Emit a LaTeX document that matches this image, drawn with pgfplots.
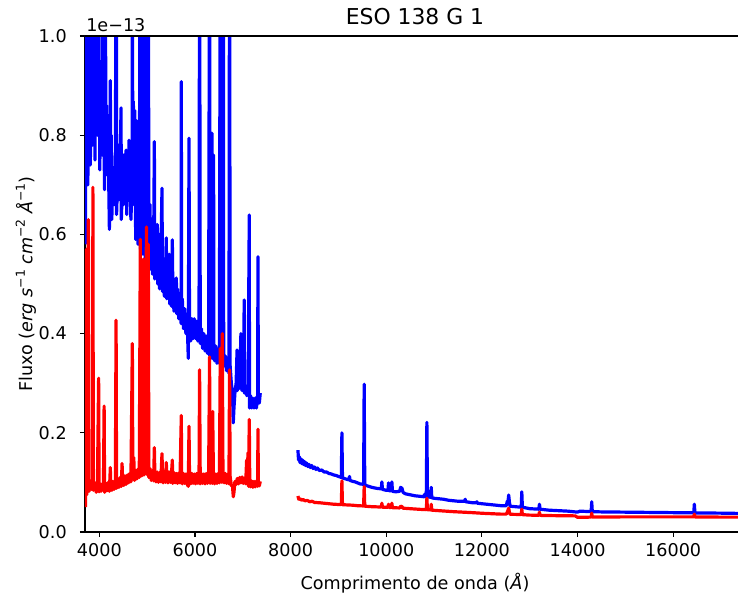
\documentclass[border=0pt]{standalone}
\usepackage{fontspec}
\setmainfont{DejaVu Sans}
\usepackage{pgfplots}
\pgfplotsset{compat=1.18}
\newcommand\sups[1]{\raisebox{0.42em}{\fontsize{9.3}{10}\selectfont #1}}
\begin{document}
\fontsize{13.2}{15.8}\selectfont
\begin{tikzpicture}
\begin{axis}[
 name=ax, scale only axis, width=489.75pt, height=372pt,
 xmin=3700, xmax=17355, ymin=0, ymax=1,
 axis x line*=bottom, axis y line*=left,
 axis line style={line width=0.8pt, black, -},
 xtick={4000,6000,8000,10000,12000,14000,16000},
 xticklabels={4000,6000,8000,10000,12000,14000,16000},
 ytick={0,0.2,0.4,0.6,0.8,1.0}, yticklabels={0.0,0.2,0.4,0.6,0.8,1.0},
 tick align=outside, major tick length=3.75pt,
 tick style={line width=0.8pt, black},
 xticklabel style={anchor=north, inner sep=0pt, yshift=-5pt},
 yticklabel style={anchor=east, inner sep=0pt, xshift=-9.75pt},
 scaled ticks=false,
 every axis plot/.append style={line join=round, line width=2.4pt},
]
% blue, optical
\addplot[color=blue] table {
x y
3710 0.58
3720 1.3
3735 0.80
3748 1.3
3760 0.70
3770 0.98
3785 0.90
3800 1.3
3810 0.74
3835 0.88
3850 1.3
3860 0.78
3875 0.97
3885 0.92
3910 0.75
3920 1.3
3935 0.86
3960 0.80
3975 1.3
3985 0.90
3998 0.95
4010 0.73
4022 0.90
4035 0.84
4060 0.76
4065 1.3
4085 0.87
4110 0.69
4125 1.3
4135 0.80
4150 0.86
4160 0.72
4180 0.84
4185 0.78
4210 0.61
4230 0.91
4235 0.74
4250 0.80
4260 0.63
4285 0.72
4310 0.66
4335 0.76
4355 1.3
4360 0.64
4385 0.72
4400 0.78
4410 0.67
4435 0.75
4454 0.855
4460 0.63
4485 0.71
4500 0.76
4510 0.66
4535 0.74
4560 0.77
4572 0.64
4585 0.72
4610 0.67
4620 0.79
4635 0.73
4660 0.63
4685 0.70
4690 1.3
4700 0.66
4711 0.868
4735 0.68
4740 0.85
4760 0.59
4770 0.83
4785 0.66
4790 0.74
4810 0.58
4835 0.65
4857 1.3
4860 0.57
4885 0.63
4889 1.3
4910 0.56
4920 1.3
4935 0.62
4960 0.55
4982 1.3
4985 0.60
5010 0.54
5024 1.3
5035 0.60
5060 0.66
5072 0.53
5085 0.585
5100 0.63
5110 0.52
5135 0.57
5150 0.787
5160 0.51
5185 0.565
5210 0.62
5222 0.50
5235 0.55
5250 0.60
5260 0.49
5285 0.545
5310 0.693
5320 0.485
5335 0.535
5360 0.475
5385 0.53
5400 0.593
5410 0.47
5435 0.52
5460 0.56
5470 0.46
5485 0.515
5510 0.455
5526 0.589
5535 0.505
5560 0.445
5585 0.50
5610 0.512
5620 0.44
5635 0.49
5660 0.43
5685 0.48
5710 0.42
5714 0.908
5720 0.44
5735 0.47
5760 0.41
5785 0.45
5810 0.40
5835 0.43
5860 0.35
5875 0.794
5885 0.42
5910 0.385
5935 0.43
5960 0.39
5985 0.43
6010 0.39
6035 0.425
6060 0.385
6085 0.42
6096 1.3
6110 0.38
6135 0.41
6160 0.37
6185 0.40
6210 0.365
6235 0.395
6260 0.36
6285 0.39
6305 1.3
6310 0.355
6335 0.385
6355 0.804
6360 0.35
6385 0.38
6389 0.76
6395 0.36
6410 0.345
6435 0.375
6460 0.34
6485 0.37
6510 0.34
6529 1.3
6535 0.365
6560 0.335
6571 1.3
6580 0.36
6592 1.3
6600 0.34
6610 0.335
6635 0.355
6660 0.325
6685 0.35
6710 0.32
6723 1.3
6735 0.335
6760 0.30
6785 0.28
6800 0.22
6815 0.25
6835 0.28
6860 0.30
6880 0.367
6885 0.285
6910 0.31
6935 0.29
6960 0.40
6970 0.30
6985 0.285
7010 0.30
7030 0.468
7035 0.28
7060 0.295
7085 0.275
7110 0.28
7135 0.639
7140 0.25
7160 0.275
7185 0.25
7210 0.27
7235 0.25
7260 0.27
7285 0.25
7310 0.275
7317 0.555
7325 0.26
7345 0.26
7365 0.28
};
% blue, near infrared
\addplot[color=blue] table {
x y
8153 0.165
8165 0.145
8180 0.152
8195 0.140
8210 0.148
8230 0.138
8250 0.145
8270 0.136
8290 0.142
8310 0.134
8335 0.139
8360 0.132
8385 0.136
8410 0.130
8440 0.134
8470 0.128
8500 0.131
8530 0.126
8560 0.129
8600 0.124
8650 0.125
8700 0.121
8750 0.121
8800 0.118
8850 0.117
8900 0.115
8950 0.114
9000 0.112
9060 0.110
9072 0.20
9084 0.109
9150 0.107
9220 0.105
9231 0.112
9242 0.104
9300 0.102
9350 0.101
9400 0.099
9450 0.097
9526 0.096
9538 0.298
9550 0.095
9600 0.093
9700 0.090
9800 0.088
9896 0.087
9908 0.101
9920 0.086
10000 0.084
10035 0.084
10047 0.099
10059 0.083
10105 0.083
10117 0.101
10129 0.082
10200 0.081
10280 0.082
10300 0.090
10330 0.088
10350 0.080
10400 0.077
10500 0.075
10600 0.073
10700 0.072
10790 0.071
10800 0.076
10810 0.071
10837 0.071
10849 0.221
10861 0.071
10928 0.070
10940 0.090
10952 0.069
11000 0.068
11100 0.067
11200 0.066
11300 0.064
11400 0.063
11500 0.062
11638 0.062
11650 0.066
11662 0.061
11800 0.059
11882 0.059
11894 0.061
11906 0.058
12000 0.057
12200 0.055
12400 0.053
12510 0.053
12530 0.062
12545 0.060
12560 0.0746
12575 0.060
12590 0.052
12700 0.051
12822 0.050
12834 0.081
12846 0.050
13000 0.047
13190 0.046
13203 0.056
13216 0.046
13400 0.044
13600 0.043
13800 0.042
14000 0.040
14050 0.042
14284 0.041
14296 0.061
14308 0.041
14500 0.0405
15000 0.040
15500 0.0395
16000 0.039
16430 0.039
16442 0.056
16454 0.0385
17000 0.038
17355 0.0375
};
% red, optical
\addplot[color=red] table {
x y
3710 0.050
3728 0.57
3735 0.075
3760 0.098
3770 0.63
3785 0.082
3810 0.104
3835 0.086
3860 0.100
3865 0.695
3875 0.084
3910 0.099
3935 0.080
3960 0.097
3985 0.31
3995 0.081
4010 0.098
4035 0.082
4060 0.097
4085 0.084
4100 0.254
4110 0.080
4135 0.098
4160 0.083
4185 0.100
4210 0.082
4230 0.13
4235 0.097
4260 0.084
4285 0.102
4310 0.086
4335 0.104
4350 0.427
4360 0.088
4385 0.106
4410 0.090
4435 0.110
4460 0.092
4475 0.138
4485 0.110
4510 0.094
4535 0.113
4560 0.096
4585 0.115
4610 0.099
4635 0.118
4660 0.101
4690 0.38
4700 0.117
4720 0.15
4735 0.104
4760 0.124
4785 0.107
4810 0.127
4835 0.110
4857 0.59
4865 0.130
4885 0.113
4910 0.133
4920 0.55
4935 0.115
4960 0.134
4985 0.615
4995 0.116
5010 0.132
5024 0.58
5035 0.110
5060 0.128
5085 0.104
5110 0.124
5135 0.103
5150 0.17
5160 0.122
5185 0.101
5210 0.121
5235 0.100
5260 0.120
5285 0.101
5310 0.158
5320 0.120
5335 0.099
5360 0.121
5385 0.100
5400 0.14
5410 0.119
5435 0.099
5460 0.121
5485 0.100
5510 0.119
5526 0.145
5535 0.098
5560 0.120
5585 0.099
5610 0.118
5635 0.098
5660 0.119
5685 0.099
5714 0.235
5720 0.117
5735 0.097
5760 0.118
5785 0.098
5810 0.117
5835 0.097
5860 0.092
5875 0.213
5885 0.116
5910 0.097
5935 0.118
5960 0.098
5985 0.117
6010 0.097
6035 0.118
6060 0.098
6085 0.117
6096 0.327
6110 0.097
6135 0.118
6160 0.098
6185 0.117
6210 0.097
6235 0.118
6260 0.098
6285 0.117
6305 0.353
6315 0.098
6335 0.118
6360 0.098
6370 0.243
6385 0.116
6410 0.097
6435 0.117
6460 0.098
6485 0.118
6510 0.099
6529 0.37
6540 0.117
6560 0.100
6571 0.40
6585 0.119
6610 0.099
6635 0.118
6660 0.098
6685 0.117
6710 0.097
6723 0.327
6735 0.112
6760 0.094
6785 0.092
6801 0.071
6815 0.080
6835 0.102
6860 0.096
6885 0.108
6910 0.097
6935 0.110
6960 0.099
6985 0.111
7010 0.098
7035 0.109
7060 0.097
7080 0.145
7085 0.106
7110 0.16
7120 0.092
7135 0.227
7145 0.104
7160 0.091
7185 0.103
7210 0.090
7235 0.102
7260 0.091
7285 0.103
7310 0.092
7317 0.207
7325 0.104
7345 0.093
7365 0.102
};
% red, near infrared
\addplot[color=red] table {
x y
8153 0.0726
8170 0.066
8200 0.067
8230 0.064
8260 0.0655
8300 0.063
8350 0.0635
8400 0.061
8450 0.062
8500 0.0595
8600 0.059
8700 0.058
8800 0.057
8900 0.056
9000 0.0555
9060 0.0555
9072 0.103
9084 0.055
9200 0.0545
9300 0.054
9400 0.053
9526 0.0525
9538 0.0914
9550 0.052
9700 0.051
9850 0.0505
9896 0.0505
9908 0.058
9920 0.050
10000 0.050
10035 0.050
10047 0.056
10059 0.0495
10105 0.0495
10117 0.058
10129 0.049
10280 0.0485
10300 0.052
10330 0.051
10350 0.048
10500 0.047
10700 0.0457
10837 0.045
10849 0.068
10861 0.045
10928 0.0445
10940 0.056
10952 0.044
11100 0.043
11400 0.041
11800 0.039
12000 0.0378
12400 0.036
12510 0.036
12530 0.040
12560 0.048
12575 0.040
12590 0.0357
12700 0.0355
12822 0.0352
12834 0.046
12846 0.035
13000 0.034
13190 0.0338
13203 0.040
13216 0.0335
13500 0.033
13950 0.0325
14000 0.0296
14284 0.030
14296 0.038
14308 0.030
14500 0.0302
15000 0.0305
16000 0.0305
16430 0.0305
16442 0.036
16454 0.0303
17000 0.030
17355 0.030
};
\end{axis}
\draw[line width=0.8pt] (ax.north west) -- (ax.north east);
\node[anchor=base, font=\fontsize{16.4}{19}\selectfont] at ([xshift=247.5pt, yshift=8.25pt]ax.north west) {ESO 138 G 1};
\node[anchor=base west, inner sep=0pt] at ([xshift=0.75pt, yshift=3.3pt]ax.north west) {1e−13};
\node[rotate=90, anchor=base, inner sep=0pt] at ([xshift=-39.5pt]ax.west) {Fluxo (\textit{erg s}\sups{−1} \textit{cm}\sups{−2} \textit{Å}\sups{−1})};
\node[anchor=base, inner sep=0pt] at ([xshift=247.5pt, yshift=-43.1pt]ax.south west) {Comprimento de onda (\textit{Å})};
\pgfresetboundingbox
\path ([shift={(-63.75pt,-46.5pt)}]ax.south west) rectangle ([shift={(0pt,27pt)}]ax.north east);
\end{tikzpicture}
\end{document}
